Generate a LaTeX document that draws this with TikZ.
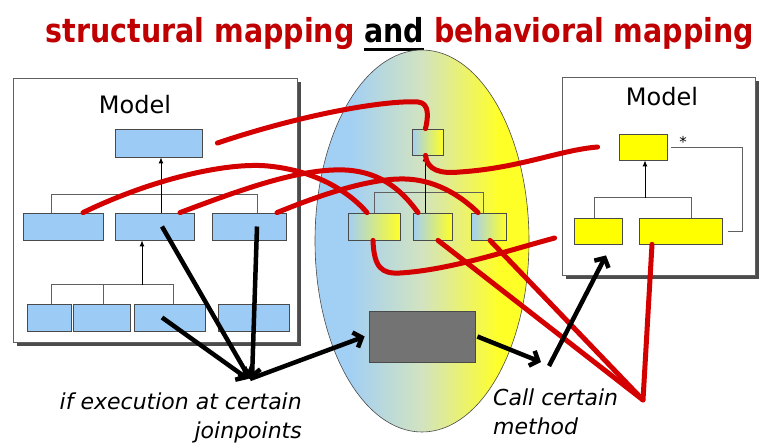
\documentclass[tikz,border=0pt]{standalone}
\usepackage{fontspec}
\usepackage{graphicx}
\setmainfont{DejaVu Sans}
\newfontfamily\titlefont{DejaVu Sans Condensed Bold}
\usetikzlibrary{arrows.meta,shadows}
\definecolor{boxblue}{HTML}{9CCBF6}
\definecolor{boxyellow}{HTML}{FFFF00}
\definecolor{mapred}{HTML}{D40000}
\definecolor{titlered}{HTML}{C00000}
\definecolor{ellblue}{HTML}{A2CFF4}
\definecolor{ellmid}{HTML}{D2E3C0}
\definecolor{ellyellow}{HTML}{FFFF28}
\definecolor{edgegray}{HTML}{4A4A4A}
\definecolor{linegray}{HTML}{606060}
\definecolor{gmodule}{HTML}{737373}
\pgfdeclarehorizontalshading{ellshade}{100bp}{color(0bp)=(ellblue); color(33bp)=(ellblue); color(50bp)=(ellmid); color(68bp)=(ellyellow); color(100bp)=(ellyellow)}
\newcommand\andul[1]{\setbox0\hbox{#1}\rlap{\rule[-8pt]{\wd0}{3pt}}\box0}
\tikzset{
 cls/.style={draw=edgegray, line width=0.8pt, inner sep=0pt},
 bluecls/.style={cls, fill=boxblue},
 yelcls/.style={cls, fill=boxyellow},
 mixcls/.style={cls, left color=ellblue, right color=ellyellow},
 modelbox/.style={draw=linegray, line width=0.8pt, fill=white, inner sep=0pt,
   drop shadow={shadow xshift=3.5pt, shadow yshift=-3.5pt, fill=black!70, opacity=1}},
 modeltxt/.style={font=\fontsize{24}{28}\selectfont, inner sep=0pt},
 tree/.style={draw=linegray, line width=0.8pt},
 inh/.style={draw=black, line width=1pt, -{Latex[length=6pt,width=5pt]}},
 mapline/.style={draw=mapred, line width=5pt, line cap=round, line join=round},
 callarrow/.style={draw=black, line width=4.5pt, -{Straight Barb[length=7pt,width=16pt]}},
 note/.style={font=\fontsize{22}{29}\selectfont\itshape, inner sep=0pt},
}
\begin{document}
\begin{tikzpicture}[x=1pt,y=-1pt]
\useasboundingbox (0,0) rectangle (760,444);
% title
\node[anchor=base, font=\titlefont\fontsize{33}{36}\selectfont, text=titlered, inner sep=0pt] (title) at (400,43)
  {\resizebox{708pt}{\height}{structural mapping \textcolor{black}{\andul{and}} behavioral mapping}};
% central ellipse
\shade[shading=ellshade] (422,241) ellipse [x radius=107pt, y radius=191pt];
\draw[draw=edgegray, line width=0.6pt] (422,241) ellipse [x radius=107pt, y radius=191pt];
% left model
\node[modelbox, minimum width=284pt, minimum height=264pt] (LM) at (155,210) {};
\node[modeltxt] (LMt) at (135,105) {Model};
\node[bluecls, minimum width=87pt, minimum height=28pt] (L0) at (158.5,143) {};
\node[bluecls, minimum width=80pt, minimum height=27pt] (L1) at (63,226.5) {};
\node[bluecls, minimum width=79pt, minimum height=27pt] (L2) at (154.5,226.5) {};
\node[bluecls, minimum width=74pt, minimum height=27pt] (L3) at (249,226.5) {};
\node[bluecls, minimum width=44pt, minimum height=27pt] (L4) at (49,317.5) {};
\node[bluecls, minimum width=57pt, minimum height=27pt] (L5) at (101.5,317.5) {};
\node[bluecls, minimum width=71pt, minimum height=27pt] (L6) at (169.5,317.5) {};
\node[bluecls, minimum width=71pt, minimum height=27pt] (L7) at (253.5,317.5) {};
\draw[tree] ([xshift=-12pt]L1.north) -- ++(0,-18) -- ++(206,0) -- ++(0,18);
\draw[inh] ([xshift=6.5pt]L2.north) -- ([xshift=2.5pt]L0.south);
\draw[tree] ([xshift=2pt]L4.north) -- ++(0,-19) -- ++(122,0) -- ++(0,19);
\draw[tree] ([xshift=1.5pt]L5.north) -- ++(0,-19);
\draw[inh] ([xshift=-12.5pt,yshift=-45pt]L2.south) -- ([xshift=-12.5pt]L2.south);
% middle (woven) model
\node[mixcls, minimum width=31pt, minimum height=26pt] (M0) at (427.5,142) {};
\node[mixcls, minimum width=52pt, minimum height=27pt] (M1) at (374,226.5) {};
\node[mixcls, minimum width=39pt, minimum height=27pt] (M2) at (432.5,226.5) {};
\node[mixcls, minimum width=35pt, minimum height=27pt] (M3) at (488.5,226.5) {};
\draw[tree] (M1.north) -- ++(0,-20) -- ++(109,0) -- ++(0,20);
\draw[inh] ([xshift=-7.5pt]M2.north) -- ([xshift=-2.5pt]M0.south);
\node[draw=edgegray, fill=gmodule, line width=0.8pt, inner sep=0pt, minimum width=106pt, minimum height=51pt] (G) at (422,336.5) {};
% right model
\node[modelbox, minimum width=193pt, minimum height=198pt] (RM) at (658.5,176) {};
\node[modeltxt] (RMt) at (662,97) {Model};
\node[yelcls, minimum width=48pt, minimum height=26pt] (R0) at (643,147) {};
\node[yelcls, minimum width=48pt, minimum height=26pt] (R1) at (598,231) {};
\node[yelcls, minimum width=83pt, minimum height=26pt] (R2) at (680.5,231) {};
\draw[tree] ([xshift=-4pt]R1.north) -- ++(0,-20) -- ++(97,0) -- ++(0,20);
\draw[inh] ([xshift=2pt,yshift=-38pt]R0.south) -- ([xshift=2pt]R0.south);
\draw[tree] ([xshift=4pt]R0.east) -- ++(71,0) |- ([xshift=6pt]R2.east);
\node[font=\fontsize{15}{15}\selectfont, inner sep=0pt] (star) at (683,142) {*};
% junction points
\coordinate (jp) at (250,379);
\coordinate (cmA) at (541,362);
\coordinate (cmB) at (549,366);
\coordinate (rv) at (643,400);
% red mapping lines
\draw[mapline] ([xshift=15pt]L0.east) .. controls (310,112) and (390,100) .. (418,102) .. controls (430,103) and (428,118) .. ([xshift=-2pt]M0.north);
\draw[mapline] ([xshift=-2pt]M0.south) .. controls (427,170) and (440,174) .. (460,172) .. controls (520,168) and (560,150) .. ([xshift=-21pt]R0.west);
\draw[mapline] ([xshift=20pt]L1.north) .. controls (150,180) and (225,162) .. (268,166) .. controls (320,171) and (352,195) .. ([xshift=-7pt]M1.north);
\draw[mapline] ([xshift=25.5pt]L2.north) .. controls (240,190) and (300,168) .. (345,170) .. controls (385,172) and (405,195) .. ([xshift=-14.5pt]M2.north);
\draw[mapline] ([xshift=28pt]L3.north) .. controls (320,195) and (370,178) .. (405,179) .. controls (440,180) and (465,200) .. ([xshift=-10.5pt]M3.north);
\draw[mapline] ([xshift=-1pt]M1.south) .. controls (374,268) and (382,274) .. (400,273) .. controls (450,270) and (510,250) .. ([xshift=-19pt,yshift=-7pt]R1.west);
\draw[mapline] ([xshift=5.5pt]M2.south) -- (rv) -- ([xshift=-28.5pt]R2.south);
\draw[mapline] ([xshift=1.5pt]M3.south) -- (rv);
% black call arrows
\draw[callarrow] ([xshift=7.5pt]L2.center) -- (jp);
\draw[callarrow] ([xshift=8pt]L3.center) -- ([xshift=2pt]jp);
\draw[callarrow] ([xshift=-7.5pt]L6.center) -- ([xshift=-2pt]jp);
\draw[callarrow] (jp) -- ([xshift=-4pt]G.west);
\draw[callarrow] ([xshift=2pt]G.east) -- (cmA);
\draw[callarrow] (cmB) -- ([xshift=8pt,yshift=-11pt]R1.south);
% notes
\node[note, anchor=base east] (n1) at (302,409) {if execution at certain};
\node[note, anchor=base east] (n2) at (302,438) {joinpoints};
\node[note, anchor=base west] (n3) at (493,405) {Call certain};
\node[note, anchor=base west] (n4) at (493,434) {method};
\end{tikzpicture}
\end{document}
